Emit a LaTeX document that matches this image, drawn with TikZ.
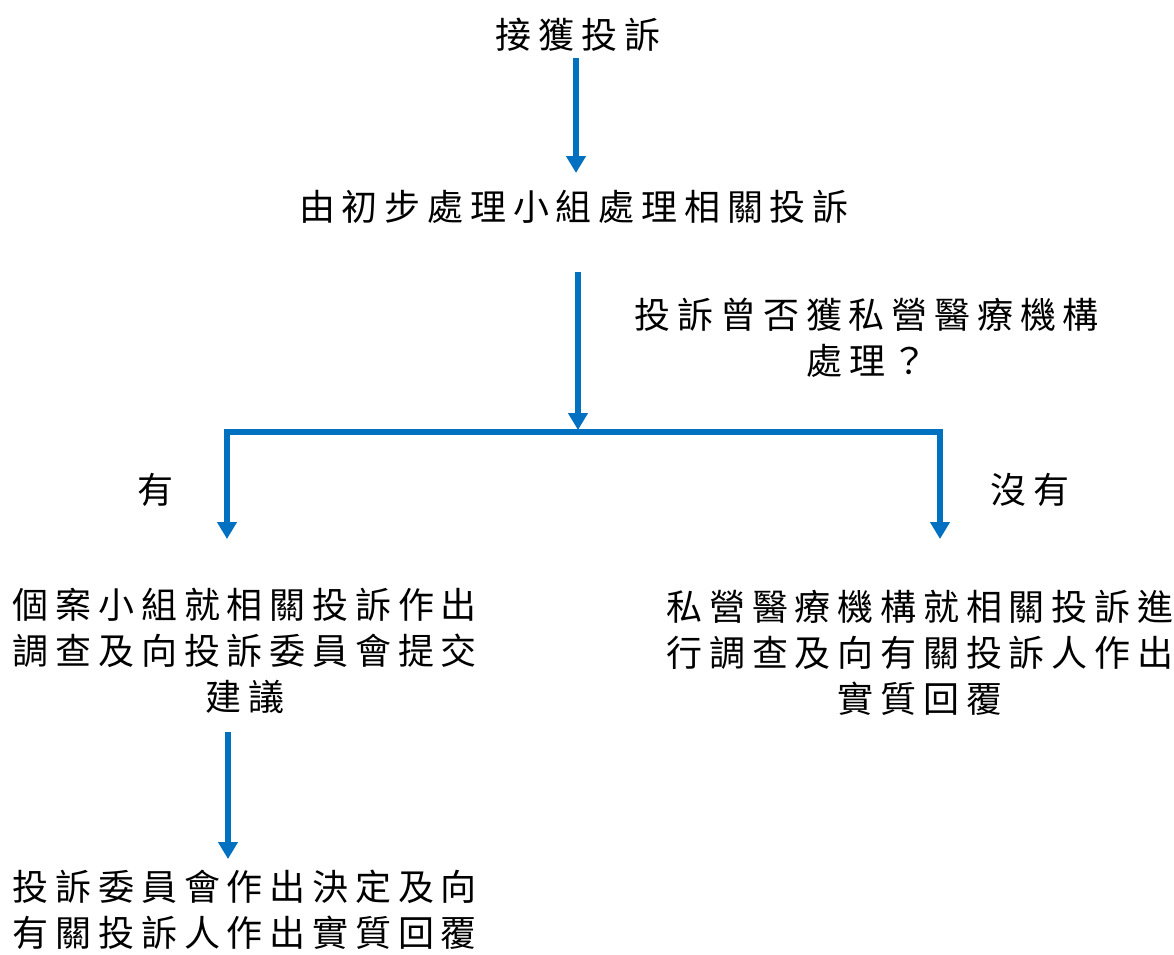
\documentclass[tikz,border=0pt]{standalone}
\usepackage{fontspec}
\usetikzlibrary{arrows.meta}
\newfontfamily\cjk[LetterSpace=18.9]{Noto Sans CJK TC}
\definecolor{flowblue}{RGB}{0,112,192}
\tikzset{
  txt/.style={align=center,inner sep=0pt,font=\cjk\fontsize{36}{46}\selectfont,text=black},
  flow/.style={draw=flowblue,line width=6pt,line join=miter,-{Triangle[width=19pt,length=17pt]}},
  flowboth/.style={draw=flowblue,line width=6pt,line join=miter,{Triangle[width=19pt,length=17pt]}-{Triangle[width=19pt,length=17pt]}}
}
\begin{document}
\begin{tikzpicture}[x=1pt,y=-1pt]
\useasboundingbox (0,0) rectangle (1174,954);
\node[txt] (t1) at (578,35) {接獲投訴};
\node[txt] (t2) at (574,207) {由初步處理小組處理相關投訴};
\node[txt] (q) at (867,338) {投訴曾否獲私營醫療機構\\處理？};
\node[txt] (yes) at (155,490) {有};
\node[txt] (no) at (1030,490) {沒有};
\node[txt] (left) at (245,651) {個案小組就相關投訴作出\\調查及向投訴委員會提交\\建議};
\node[txt] (right) at (920,653) {私營醫療機構就相關投訴進\\行調查及向有關投訴人作出\\實質回覆};
\node[txt] (bottom) at (245,910) {投訴委員會作出決定及向\\有關投訴人作出實質回覆};
\coordinate (a1s) at (576,58);
\coordinate (a1e) at (576,173);
\coordinate (a2s) at (578,272);
\coordinate (a2e) at (578,430);
\coordinate (jl) at (227,432);
\coordinate (jr) at (940,432);
\coordinate (le) at (227,539);
\coordinate (re) at (940,539);
\coordinate (a3s) at (228,732);
\coordinate (a3e) at (228,859);
\draw[flow] (a1s) -- (a1e);
\draw[flow] (a2s) -- (a2e);
\draw[flowboth] (le) -- (jl) -- (jr) -- (re);
\draw[flow] (a3s) -- (a3e);
\end{tikzpicture}
\end{document}
